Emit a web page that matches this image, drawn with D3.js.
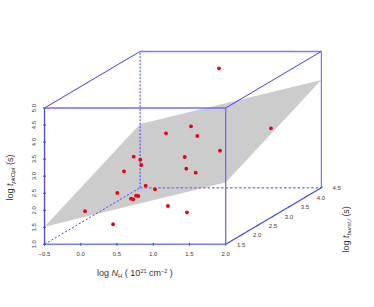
<!DOCTYPE html>
<html><head><meta charset="utf-8">
<script src="https://cdn.jsdelivr.net/npm/d3@7"></script>
<style>html,body{margin:0;background:#fff}svg{display:block}text{font-family:"Liberation Sans",Arial,sans-serif}</style>
</head><body><svg id="c" width="374" height="307"></svg>
<script>
const logNH = [0.862,0.517,0.949,0.071,0.162,0.775,1.042,0.396,0.157,0.797,0.927,0.457,0.585,0.285,0.323,0.354,0.254,0.285,-0.161,0.764,1.026,0.226,0.808,1.525];
const logPk = [3.632,3.427,3.348,2.740,2.652,2.731,2.640,2.773,2.589,2.388,2.271,2.166,2.060,2.230,1.872,1.864,1.784,1.767,1.693,1.570,1.385,1.311,4.780,3.019];
const logBurst = [2.5,2.5,2.5,2.5,2.5,2.5,3,2,2,2.5,2.5,2,2,1.5,2,2,2,2,1.5,2,2,1.5,3.5,3.5];
const xTicks = [-0.5,0,0.5,1,1.5,2];
const yTicks = [1,1.5,2,2.5,3,3.5,4,4.5,5];
const zTicks = [1.5,2,2.5,3,3.5,4,4.5];
const planeAt = [[-0.5,1,1.516],[-0.5,4,2.87],[2,4,4.164],[2,1,2.81]];

const svg = d3.select("#c");
const X = d3.scaleLinear().domain([-0.5,2]).range([44.5,225.7]);
const Y = d3.scaleLinear().domain([1,5]).range([244.3,108]);
const ZX = d3.scaleLinear().domain([1,4]).range([0,95.6]);
const ZY = d3.scaleLinear().domain([1,4]).range([0,-56.6]);
const P = (x,y,z)=>[X(x)+ZX(z),Y(y)+ZY(z)];
const blue="#4040ff", tick="#3a3a3a";

svg.append("polygon").attr("points",planeAt.map(d=>P(d[0],d[2],d[1]).join(",")).join(" ")).attr("fill","#cccccc");

function seg(a,b,w,dash,col,op){
  const p=P(...a),q=P(...b);
  const l=svg.append("line").attr("x1",p[0]).attr("y1",p[1]).attr("x2",q[0]).attr("y2",q[1])
    .attr("stroke",col||blue).attr("stroke-width",w);
  if(op) l.attr("stroke-opacity",op);
  if(dash) l.attr("stroke-dasharray",dash);
}
// hidden edges
seg([-0.5,1,1],[-0.5,1,4],1,"2 2");
seg([-0.5,1,4],[-0.5,5,4],1,"2 1.5");
seg([-0.5,1,4],[2,1,4],1.5,"2.5 2","#7f7fff");
// visible edges
seg([-0.5,5,1],[-0.5,5,4],1);
seg([-0.5,5,4],[2,5,4],1.5,null,"#7a7aff");
seg([2,5,1],[2,5,4],1);
seg([2,1,4],[2,5,4],1,null,"#5a5af5");
seg([2,1,1],[2,1,4],1.1);
seg([-0.5,1,1],[-0.5,5,1],1.3,null,"#4a4aff");
seg([2,1,1],[2,5,1],1.3,null,"#6a6af5");
seg([-0.5,5,1],[2,5,1],1.4,null,"#7070f0");
seg([-0.5,1,1],[2,1,1],1.6,null,"#7a7aff");

// ticks
xTicks.forEach(v=>{const p=P(v,1,1);
  svg.append("line").attr("x1",p[0]).attr("x2",p[0]).attr("y1",p[1]-1.5).attr("y2",p[1]+1.5).attr("stroke",blue);
  svg.append("text").attr("x",p[0]).attr("y",p[1]+11.3).attr("text-anchor","middle").attr("font-size",6).attr("fill",tick).text(v.toFixed(1).replace("-","\u2212"));
});
yTicks.forEach(v=>{const p=P(-0.5,v,1);
  svg.append("line").attr("x1",p[0]-1.5).attr("x2",p[0]+1.5).attr("y1",p[1]).attr("y2",p[1]).attr("stroke",blue);
  svg.append("text").attr("transform",`translate(${p[0]-11},${p[1]}) rotate(-90)`).attr("y",2.1).attr("text-anchor","middle").attr("font-size",6).attr("fill",tick).text(v.toFixed(1));
});
zTicks.forEach(v=>{const p=P(2,1,v);
  if(v<=4) svg.append("line").attr("x1",p[0]-1.5).attr("x2",p[0]+1.5).attr("y1",p[1]+0.9).attr("y2",p[1]-0.9).attr("stroke",blue);
  svg.append("text").attr("x",p[0]-0.5).attr("y",p[1]+12).attr("text-anchor","middle").attr("font-size",6).attr("fill",tick).text(v.toFixed(1));
});

// points
svg.selectAll("circle.pt").data(logNH).join("circle").attr("class","pt")
  .attr("cx",(d,i)=>P(d,logPk[i],logBurst[i])[0])
  .attr("cy",(d,i)=>P(d,logPk[i],logBurst[i])[1])
  .attr("r",1.9).attr("fill","#e60012");

// titles
function title(t,parts){
  parts.forEach(p=>{
    const s=t.append("tspan").text(p[0]).attr("font-size",p[3]||9).attr("fill","#333");
    if(p[1]) s.attr("font-style","italic");
    if(p[2]) s.attr("dy",p[2]);
  });
}
const xt=svg.append("text").attr("x",97).attr("y",276);
title(xt,[["log "],["N",1],["H",0,1.5,6],[" ( 10",0,-1.5],["21",0,-3.5,5.5],[" cm",0,3.5],["\u22122",0,-3.5,5.5],[" )",0,3.5]]);
const yt=svg.append("text").attr("transform","translate(13,200.5) rotate(-90)");
title(yt,[["log "],["t",1],["pkOpt",1,1.5,6],[" (s)",0,-1.5]]);
const zt=svg.append("text").attr("transform","translate(349,252.5) rotate(-90)");
title(zt,[["log "],["t",1],["burst,i",1,1.5,6],[" (s)",0,-1.5]]);
</script></body></html>
